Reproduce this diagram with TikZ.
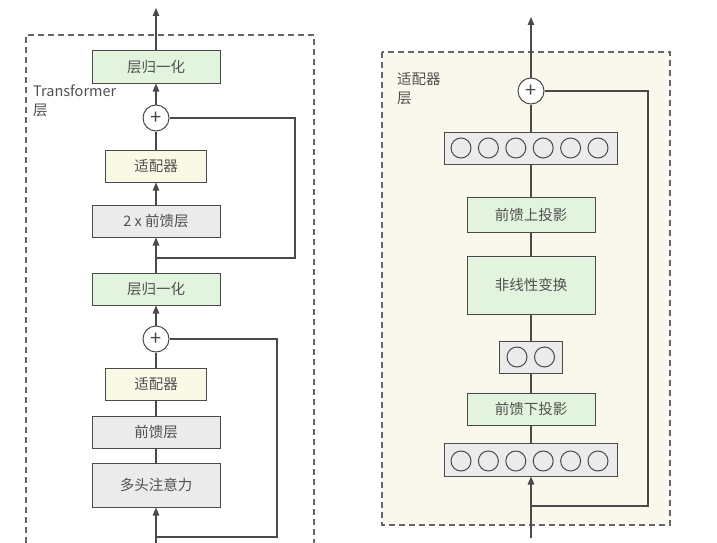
\documentclass[tikz,border=0pt]{standalone}
\usepackage{fontspec}
\setmainfont{Noto Sans CJK SC}
\usetikzlibrary{arrows.meta}
\definecolor{lc}{HTML}{4A4A4A}
\definecolor{tc}{HTML}{505050}
\definecolor{dc}{HTML}{666666}
\definecolor{gfill}{HTML}{E3F4DE}
\definecolor{grfill}{HTML}{ECEBEC}
\definecolor{yfill}{HTML}{FAF9E6}
\definecolor{bg}{HTML}{FAF8EC}
\begin{document}
\begin{tikzpicture}[x=1pt,y=-1pt,
  box/.style={draw=lc, line width=1pt, text=tc, font=\fontsize{14.5}{16}\selectfont, inner sep=0pt, minimum width=128pt, minimum height=32pt},
  gbox/.style={box, fill=gfill},
  graybox/.style={box, fill=grfill},
  ybox/.style={box, fill=yfill, minimum width=101pt},
  plus/.style={circle, draw=lc, line width=1pt, fill=white, minimum size=26pt, inner sep=0pt, text=lc, font=\fontsize{20}{20}\selectfont},
  dot/.style={circle, draw=lc, line width=1pt, minimum size=20pt, inner sep=0pt},
  lin/.style={draw=lc, line width=1.1pt},
  arr/.style={draw=lc, line width=1.1pt, -{Triangle[length=8pt,width=6.5pt]}},
  dsh/.style={draw=dc, line width=1.2pt, dash pattern=on 6pt off 4pt},
  lbl/.style={text=tc, font=\fontsize{14.5}{19}\selectfont, inner sep=0pt, align=left, anchor=north west}
]
\useasboundingbox[fill=white] (0,0) rectangle (717,543);

% ---------------- left panel ----------------
\draw[dsh] (26,543) -- (26,35) -- (314,35) -- (314,543);
\node[lbl] (tlab) at (33,85) {Transformer\\层};

\node[gbox] (ln1) at (156,67) {层归一化};
\node[plus] (p1) at (156,118) {+};
\node[ybox] (ad1) at (156,166) {适配器};
\node[graybox] (ff2) at (156,221) {2 x 前馈层};
\node[gbox] (ln2) at (156,289) {层归一化};
\node[plus] (p2) at (156,339) {+};
\node[ybox] (ad2) at (156,384) {适配器};
\node[graybox] (ff) at (156,432) {前馈层};
\node[graybox, minimum height=44pt] (mha) at (156,485) {多头注意力};

\coordinate (lt) at (156,8);
\coordinate (lb) at (156,543);
\coordinate (s1) at (295,258);
\coordinate (s2) at (277,537);

\draw[arr] (ln1.north) -- (lt);
\draw[arr] (p1.north) -- (ln1.south);
\draw[lin] (ad1.north) -- (p1.south);
\draw[arr] (ff2.north) -- (ad1.south);
\draw[arr] (ln2.north) -- (ff2.south);
\draw[lin] (p1.east) -| (s1) -- (s1 -| ln2.north);
\draw[arr] (p2.north) -- (ln2.south);
\draw[lin] (ad2.north) -- (p2.south);
\draw[lin] (ff.north) -- (ad2.south);
\draw[lin] (mha.north) -- (ff.south);
\draw[arr] (lb) -- (mha.south);
\draw[lin] (p2.east) -| (s2) -- (s2 -| mha.south);

% ---------------- right panel ----------------
\draw[dsh, fill=bg] (382,52) rectangle (670,525);
\node[lbl] (alab) at (397,72) {适配器\\层};

\node[plus] (p3) at (531,91) {+};
\node[graybox, minimum width=173pt] (top6) at (531,148) {};
\foreach \i/\x in {1/461,2/488.4,3/515.8,4/543.2,5/570.6,6/598} {
  \node[dot] (ta\i) at (\x,148) {};
}
\node[gbox] (up) at (531,214.5) [minimum height=35pt] {前馈上投影};
\node[gbox, minimum height=58pt] (nl) at (531,285) {非线性变换};
\node[graybox, minimum width=63pt] (two) at (531,357) {};
\node[dot] (tw1) at (517,357) {};
\node[dot] (tw2) at (544.5,357) {};
\node[gbox] (down) at (531,409) {前馈下投影};
\node[graybox, minimum width=173pt, minimum height=33pt] (bot6) at (531,459.5) {};
\foreach \i/\x in {1/461,2/488.4,3/515.8,4/543.2,5/570.6,6/598} {
  \node[dot] (tb\i) at (\x,461) {};
}

\coordinate (rt) at (531,17);
\coordinate (rb) at (531,538);
\coordinate (s3) at (648,506);

\draw[arr] (p3.north) -- (rt);
\draw[lin] (top6.north) -- (p3.south);
\draw[lin] (up.north) -- (top6.south);
\draw[lin] (nl.north) -- (up.south);
\draw[lin] (two.north) -- (nl.south);
\draw[lin] (down.north) -- (two.south);
\draw[lin] (bot6.north) -- (down.south);
\draw[arr] (rb) -- (bot6.south);
\draw[lin] (p3.east) -| (s3) -- (s3 -| bot6.south);
\end{tikzpicture}
\end{document}
